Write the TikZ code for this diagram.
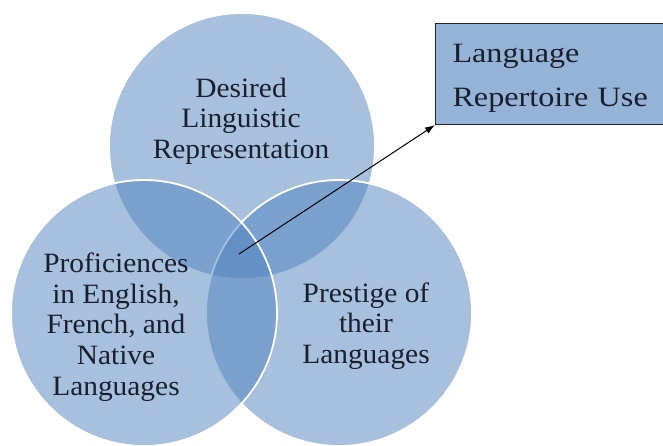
\documentclass[tikz,border=0pt]{standalone}
\usepackage{fontspec}
\setmainfont{Liberation Serif}[FakeStretch=1.05]
\newfontfamily\boxfont{Liberation Serif}[FakeStretch=1.15]
\usetikzlibrary{arrows.meta}
\definecolor{vennblue}{HTML}{4F81BD}
\definecolor{boxblue}{HTML}{95B3D7}
\definecolor{inkblue}{HTML}{1A1F2E}

\begin{document}
\begin{tikzpicture}[x=1pt, y=-1pt,
    ring/.style={circle, draw=white, line width=1.8pt, fill=vennblue, fill opacity=0.5, minimum size=266pt, inner sep=0pt},
    venntext/.style={align=center, text=inkblue, font=\fontsize{28}{30.7}\selectfont}]
    \clip (0,0) rectangle (663,445);
    \node (desire) [ring] at (242,146) {};
    \node (prestige) [ring] at (339,313) {};
    \node (proficiency) [ring] at (144,313) {};

    \node (desiretext) [venntext] at (241,121) {Desired\\Linguistic\\Representation};
    \node (proficiencytext) [venntext] at (116,327) {Proficiences\\in English,\\French, and\\Native\\Languages};
    \node (prestigetext) [venntext] at (366,326) {Prestige of\\their\\Languages};

    \node (use) [draw=black!85, line width=1pt, fill=boxblue, anchor=south west, text width=206pt, inner xsep=17pt, minimum height=101pt, align=left, text=inkblue, font=\boxfont\fontsize{28}{44}\selectfont] at (435,125) {\rule{0pt}{27pt}Language\\Repertoire Use};

    \coordinate (core) at (239,254);
    \draw [-{Latex[length=10pt, width=7pt]}, line width=1pt] (core) -- (use.south west);
\end{tikzpicture}
\end{document}
